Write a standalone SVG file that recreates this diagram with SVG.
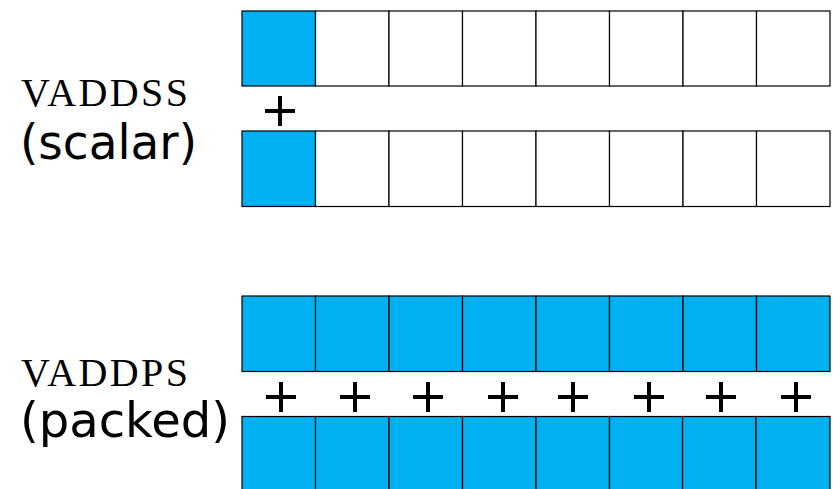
<svg xmlns="http://www.w3.org/2000/svg" width="833" height="489" viewBox="0 0 833 489">
<style>
.c{stroke:#000;stroke-width:1.2}
.e{fill:#fff}
.b{fill:#00b0f0}
.mono{font-family:"Liberation Serif",serif;font-size:40px;fill:#000}
.sans{font-family:"DejaVu Sans",Verdana,sans-serif;font-size:48px;fill:#000}
.p{stroke:#000;stroke-width:4;fill:none}
</style>
<defs>
<path id="plus" class="p" d="M-15 0H15M0 -15V15"/>
</defs>
<rect width="833" height="489" fill="#fff"/>
<g id="scalar-label">
<text class="mono" x="21" y="106" textLength="167" lengthAdjust="spacing">VADDSS</text>
<text class="sans" x="20" y="159" textLength="177" lengthAdjust="spacingAndGlyphs">(scalar)</text>
</g>
<g id="packed-label">
<text class="mono" x="21" y="386" textLength="167" lengthAdjust="spacing">VADDPS</text>
<text class="sans" x="20" y="437" textLength="210" lengthAdjust="spacingAndGlyphs">(packed)</text>
</g>
<g id="row1">
<rect class="c b" x="242" y="11" width="73.5" height="75"/>
<rect class="c e" x="315.5" y="11" width="73.5" height="75"/>
<rect class="c e" x="389" y="11" width="73.5" height="75"/>
<rect class="c e" x="462.5" y="11" width="73.5" height="75"/>
<rect class="c e" x="536" y="11" width="73.5" height="75"/>
<rect class="c e" x="609.5" y="11" width="73.5" height="75"/>
<rect class="c e" x="683" y="11" width="73.5" height="75"/>
<rect class="c e" x="756.5" y="11" width="73.5" height="75"/>
</g>
<g id="row2">
<rect class="c b" x="242" y="131" width="73.5" height="75.5"/>
<rect class="c e" x="315.5" y="131" width="73.5" height="75.5"/>
<rect class="c e" x="389" y="131" width="73.5" height="75.5"/>
<rect class="c e" x="462.5" y="131" width="73.5" height="75.5"/>
<rect class="c e" x="536" y="131" width="73.5" height="75.5"/>
<rect class="c e" x="609.5" y="131" width="73.5" height="75.5"/>
<rect class="c e" x="683" y="131" width="73.5" height="75.5"/>
<rect class="c e" x="756.5" y="131" width="73.5" height="75.5"/>
</g>
<g id="row3">
<rect class="c b" x="242" y="296" width="73.5" height="75.5"/>
<rect class="c b" x="315.5" y="296" width="73.5" height="75.5"/>
<rect class="c b" x="389" y="296" width="73.5" height="75.5"/>
<rect class="c b" x="462.5" y="296" width="73.5" height="75.5"/>
<rect class="c b" x="536" y="296" width="73.5" height="75.5"/>
<rect class="c b" x="609.5" y="296" width="73.5" height="75.5"/>
<rect class="c b" x="683" y="296" width="73.5" height="75.5"/>
<rect class="c b" x="756.5" y="296" width="73.5" height="75.5"/>
</g>
<g id="row4">
<rect class="c b" x="242" y="416.5" width="73.5" height="75"/>
<rect class="c b" x="315.5" y="416.5" width="73.5" height="75"/>
<rect class="c b" x="389" y="416.5" width="73.5" height="75"/>
<rect class="c b" x="462.5" y="416.5" width="73.5" height="75"/>
<rect class="c b" x="536" y="416.5" width="73.5" height="75"/>
<rect class="c b" x="609.5" y="416.5" width="73.5" height="75"/>
<rect class="c b" x="682.5" y="416.5" width="73.5" height="75"/>
<rect class="c b" x="756" y="416.5" width="74" height="75"/>
</g>
<g id="pluses">
<use href="#plus" x="280" y="111"/>
<use href="#plus" x="281" y="397"/>
<use href="#plus" x="355" y="397"/>
<use href="#plus" x="428" y="397"/>
<use href="#plus" x="503" y="397"/>
<use href="#plus" x="573" y="397"/>
<use href="#plus" x="649" y="397"/>
<use href="#plus" x="721" y="397"/>
<use href="#plus" x="796" y="397"/>
</g>
</svg>
